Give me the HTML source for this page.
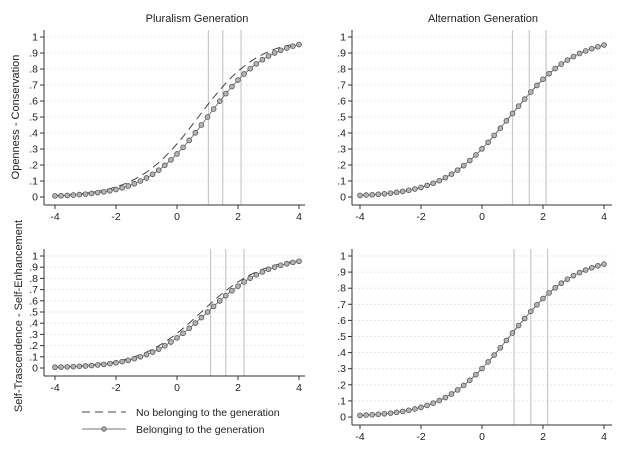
<!DOCTYPE html>
<html><head><meta charset="utf-8"><style>
html,body{margin:0;padding:0;background:#fff;}
svg{display:block;font-family:"Liberation Sans",sans-serif;}
</style></head><body>
<svg id="chart" width="640" height="455" viewBox="0 0 640 455"></svg>
<script>
// x values -4..4 step 0.2
const xValues = [-4,-3.8,-3.6,-3.4,-3.2,-3,-2.8,-2.6,-2.4,-2.2,-2,-1.8,-1.6,-1.4,-1.2,-1,-0.8,-0.6,-0.4,-0.2,0,0.2,0.4,0.6,0.8,1,1.2,1.4,1.6,1.8,2,2.2,2.4,2.6,2.8,3,3.2,3.4,3.6,3.8,4];
const yTicks = [0,0.1,0.2,0.3,0.4,0.5,0.6,0.7,0.8,0.9,1];
const yTickLabels = ["0",".1",".2",".3",".4",".5",".6",".7",".8",".9","1"];
const xTicks = [-4,-2,0,2,4];
const xTickLabels = ["-4","-2","0","2","4"];
// Pluralism - Openness
const plurOpenBelong = [.007,.008,.010,.012,.015,.018,.022,.027,.032,.039,.047,.057,.069,.083,.100,.119,.142,.168,.198,.232,.269,.310,.354,.401,.450,.500,.550,.599,.646,.690,.731,.769,.802,.832,.858,.881,.900,.917,.931,.943,.953];
const plurOpenNo = [.009,.011,.0135,.0165,.020,.0245,.0295,.0355,.043,.052,.063,.076,.0915,.1095,.1305,.155,.183,.215,.2505,.2895,.332,.3775,.4255,.475,.525,.5745,.6225,.668,.711,.7505,.7855,.817,.845,.8695,.8905,.9085,.924,.937,.946,.952,.957];
const plurOpenCut = [1.03,1.5,2.1];
// Alternation - Openness
const altOpenBelong = [.010,.012,.014,.017,.020,.024,.029,.035,.042,.050,.060,.072,.086,.102,.121,.143,.168,.196,.228,.263,.301,.342,.385,.430,.476,.522,.568,.612,.656,.697,.736,.771,.803,.831,.856,.878,.897,.913,.927,.939,.950];
const altOpenNo = [.010,.012,.014,.017,.020,.024,.029,.035,.042,.050,.060,.072,.086,.102,.121,.143,.168,.196,.228,.263,.301,.342,.385,.430,.476,.522,.568,.612,.656,.697,.736,.771,.803,.831,.856,.878,.897,.913,.927,.939,.950];
const altOpenCut = [1.0,1.55,2.1];
// Pluralism - Self-Trascendence
const plurSelfBelong = [.007,.008,.010,.012,.015,.018,.022,.027,.032,.039,.047,.057,.069,.083,.100,.119,.142,.168,.198,.232,.269,.310,.354,.401,.450,.500,.550,.599,.646,.690,.731,.769,.802,.832,.858,.881,.900,.917,.931,.943,.953];
const plurSelfNo = [.008,.010,.012,.015,.018,.022,.027,.032,.039,.047,.057,.069,.083,.100,.119,.142,.168,.198,.232,.269,.310,.354,.401,.450,.500,.550,.599,.646,.690,.731,.769,.802,.832,.858,.881,.900,.917,.931,.942,.949,.955];
const plurSelfCut = [1.1,1.6,2.2];
// Alternation - Self-Trascendence
const altSelfBelong = [.010,.012,.014,.017,.020,.024,.029,.035,.042,.050,.060,.072,.086,.102,.121,.143,.168,.196,.228,.263,.301,.342,.385,.430,.476,.522,.568,.612,.656,.697,.736,.771,.803,.831,.856,.878,.897,.913,.927,.939,.950];
const altSelfNo = [.010,.012,.014,.017,.020,.024,.029,.035,.042,.050,.060,.072,.086,.102,.121,.143,.168,.196,.228,.263,.301,.342,.385,.430,.476,.522,.568,.612,.656,.697,.736,.771,.803,.831,.856,.878,.897,.913,.927,.939,.950];
const altSelfCut = [1.05,1.6,2.15];

const NS = "http://www.w3.org/2000/svg";
const svg = document.getElementById("chart");
function mk(tag, attrs, parent){
  const e = document.createElementNS(NS, tag);
  for (const k in attrs) e.setAttribute(k, attrs[k]);
  (parent||svg).appendChild(e);
  return e;
}

function panel(name, g, belong, no, cuts){
  const grp = mk("g", {});
  
  
  const sx = v => g.x0 + (v + 4) / 8 * (g.x1 - g.x0);
  const sy = v => g.y0 - v * (g.y0 - g.y1);
  yTicks.forEach((t,i) => {
    if (i === 0) return;
    const l = mk("line", {x1:g.ax+2, x2:g.xe, y1:sy(t), y2:sy(t), stroke:"#e2e2e2", "stroke-width":0.8, "stroke-dasharray":"2,2"}, grp);
    
    
  });
  cuts.forEach(c => {
    const l = mk("line", {x1:sx(c), x2:sx(c), y1:g.yTop, y2:g.ay, stroke:"#c8c8c8", "stroke-width":1.2}, grp);
    
    
  });
  const ya = mk("line", {x1:g.ax, x2:g.ax, y1:g.yTop, y2:g.ay, stroke:"#333", "stroke-width":1}, grp);
  
  
  const xa = mk("line", {x1:g.ax, x2:g.xe, y1:g.ay, y2:g.ay, stroke:"#333", "stroke-width":1}, grp);
  
  
  yTicks.forEach((t,i) => {
    mk("line", {x1:g.ax-4, x2:g.ax, y1:sy(t), y2:sy(t), stroke:"#333", "stroke-width":1}, grp);
    const tx = mk("text", {x:g.ax-6, y:sy(t)+3.5, "text-anchor":"end", "font-size":10.5, fill:"#222"}, grp);
    tx.textContent = yTickLabels[i];
    
    
  });
  xTicks.forEach((t,i) => {
    mk("line", {x1:sx(t), x2:sx(t), y1:g.ay, y2:g.ay+4, stroke:"#333", "stroke-width":1}, grp);
    const tx = mk("text", {x:sx(t), y:g.ay+15, "text-anchor":"middle", "font-size":10.5, fill:"#222"}, grp);
    tx.textContent = xTickLabels[i];
    
    
  });
  const dp = mk("polyline", {points: xValues.map((x,i)=>sx(x)+","+sy(no[i])).join(" "), fill:"none", stroke:"#444", "stroke-width":1, "stroke-dasharray":"8,5"}, grp);
  
  
  const bp = mk("polyline", {points: xValues.map((x,i)=>sx(x)+","+sy(belong[i])).join(" "), fill:"none", stroke:"#777", "stroke-width":1}, grp);
  
  
  xValues.forEach((x,i) => {
    const c = mk("circle", {cx:sx(x), cy:sy(belong[i]), r:2.4, fill:"#b4b4b4", stroke:"#555", "stroke-width":0.8}, grp);
    
    
  });
}

panel("pluralism-openness-panel", {x0:55,x1:299,y0:197,y1:37,ax:44,ay:205,xe:305,yTop:30}, plurOpenBelong, plurOpenNo, plurOpenCut);
panel("alternation-openness-panel", {x0:360,x1:604,y0:197,y1:37,ax:352,ay:205,xe:612,yTop:30}, altOpenBelong, altOpenNo, altOpenCut);
panel("pluralism-self-panel", {x0:55,x1:299,y0:368,y1:256,ax:44,ay:376,xe:305,yTop:249}, plurSelfBelong, plurSelfNo, plurSelfCut);
panel("alternation-self-panel", {x0:360,x1:604,y0:417,y1:256,ax:352,ay:425,xe:612,yTop:249}, altSelfBelong, altSelfNo, altSelfCut);

function txt(name, s, attrs){
  const t = mk("text", attrs);
  t.textContent = s;
  
  
  return t;
}
txt("pluralism-title", "Pluralism Generation", {x:197, y:22, "text-anchor":"middle", "font-size":11, fill:"#222"});
txt("alternation-title", "Alternation Generation", {x:483, y:22, "text-anchor":"middle", "font-size":11, fill:"#222"});
txt("openness-y-title", "Openness - Conservation", {x:0, y:0, "text-anchor":"middle", "font-size":11, fill:"#222", transform:"translate(19,117) rotate(-90)"});
txt("self-y-title", "Self-Trascendence - Self-Enhancement", {x:0, y:0, "text-anchor":"middle", "font-size":11, fill:"#222", transform:"translate(22,316) rotate(-90)"});

const lg = mk("g", {});


const l1 = mk("line", {x1:82, x2:126, y1:412, y2:412, stroke:"#444", "stroke-width":1, "stroke-dasharray":"8,5"}, lg);


const l2 = mk("line", {x1:82, x2:126, y1:429, y2:429, stroke:"#777", "stroke-width":1}, lg);


const lc = mk("circle", {cx:104, cy:429, r:2.2, fill:"#b4b4b4", stroke:"#555", "stroke-width":0.8}, lg);


const t1 = mk("text", {x:136, y:416, "font-size":10.5, fill:"#222"}, lg);
t1.textContent = "No belonging to the generation";


const t2 = mk("text", {x:136, y:433, "font-size":10.5, fill:"#222"}, lg);
t2.textContent = "Belonging to the generation";


</script>
</body></html>
